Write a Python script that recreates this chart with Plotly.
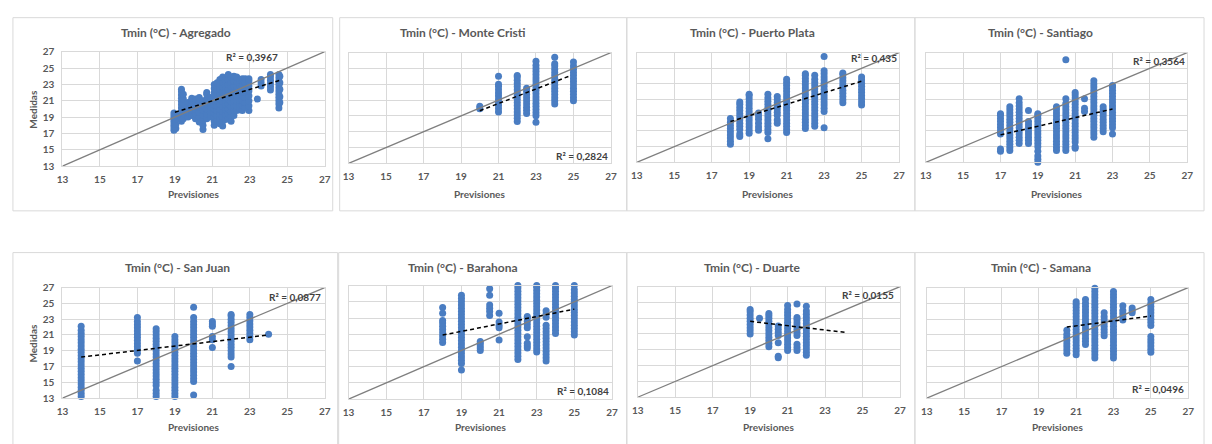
import plotly.graph_objects as go

# ---------------- data ----------------
tick_vals = [13, 15, 17, 19, 21, 23, 25, 27]
axis_range = [13, 27]
identity_line = [13, 27]

panel_titles = ["Tmin (°C) - Agregado", "Tmin (°C) - Monte Cristi", "Tmin (°C) - Puerto Plata",
                "Tmin (°C) - Santiago", "Tmin (°C) - San Juan", "Tmin (°C) - Barahona",
                "Tmin (°C) - Duarte", "Tmin (°C) - Samana"]
r2_texts = ["R² = 0,3967", "R² = 0,2824", "R² = 0,435", "R² = 0,3564",
            "R² = 0,0877", "R² = 0,1084", "R² = 0,0155", "R² = 0,0496"]
r2_x = [23.1, 25.47, 25.65, 25.5, 25.39, 25.45, 25.3, 25.4]
r2_y = [26.3, 13.86, 26.26, 25.9, 25.8, 13.96, 25.9, 14.2]

# Agregado
agregado_prev = [18.95, 19.05, 19.35, 19.45, 19.7, 19.9, 20.1, 20.3, 20.5, 20.7, 20.9, 21.1, 21.25,
                 21.4, 21.55, 21.7, 21.85, 22.0, 22.15, 22.3, 22.45, 22.6, 22.75, 22.95, 23.4,
                 23.6, 24.1, 24.55, 24.6]
agregado_med = [
    [17.4, 17.7, 18.0, 18.3, 18.6, 18.9, 19.2, 19.5],
    [17.6, 18.1, 18.7, 19.3],
    [18.5, 18.9, 19.3, 19.7, 20.1, 20.5, 20.9, 21.3, 21.7, 22.1, 22.4],
    [18.8, 19.4, 20.0, 20.6, 21.2, 21.8],
    [19.0, 19.6, 20.2, 20.8],
    [19.2, 19.8, 20.4, 21.0, 21.3],
    [18.8, 19.4, 20.0, 20.6, 21.2],
    [18.4, 19.0, 19.6, 20.2, 20.8, 21.4],
    [17.5, 18.0, 18.6, 19.2, 19.8, 20.4, 21.0],
    [18.8, 19.4, 20.0, 20.6, 21.2, 21.8, 22.0],
    [19.0, 19.6, 20.2, 20.8, 21.4],
    [18.0, 18.5, 19.0, 19.5, 20.0, 20.5, 21.0, 21.5, 22.0, 22.5, 23.0],
    [18.6, 19.2, 19.8, 20.4, 21.0, 21.6, 22.2, 22.8, 23.2],
    [18.2, 18.8, 19.4, 20.0, 20.6, 21.2, 21.8, 22.4, 23.0, 23.6],
    [17.9, 18.5, 19.1, 19.7, 20.3, 20.9, 21.5, 22.1, 22.7, 23.3, 23.9],
    [18.7, 19.3, 19.9, 20.5, 21.1, 21.7, 22.3, 22.9, 23.5],
    [18.8, 19.4, 20.0, 20.6, 21.2, 21.8, 22.4, 23.0, 23.6, 24.2],
    [18.5, 19.1, 19.7, 20.3, 20.9, 21.5, 22.1, 22.7, 23.3, 23.9],
    [19.2, 19.8, 20.4, 21.0, 21.6, 22.2, 22.8, 23.4, 24.0],
    [19.8, 20.4, 21.0, 21.6, 22.2, 22.8, 23.4, 23.9],
    [19.9, 20.5, 21.1, 21.7, 22.3, 22.9, 23.5],
    [19.8, 20.4, 21.0, 21.6, 22.2, 22.8, 23.4, 23.7],
    [20.2, 20.8, 21.4, 22.0, 22.6, 23.2, 23.7],
    [19.8, 20.4, 21.0, 21.6, 22.2, 22.8, 23.4, 23.7],
    [21.2],
    [22.8, 23.2, 23.6],
    [22.3, 22.7, 23.1, 23.5, 23.9, 24.2],
    [20.1, 20.6, 21.0, 21.4, 21.8, 22.2, 22.6, 23.0, 23.4, 23.8, 24.2],
    [20.8, 21.5, 22.4, 23.2, 24.0],
]
agregado_trend_x = [19.0, 24.6]
agregado_trend_y = [19.6, 23.5]

# Monte Cristi
monte_cristi_prev = [20, 21, 22, 22.5, 23, 24, 25]
monte_cristi_med = [
    [19.9, 20.2],
    [19.5, 19.9, 20.3, 20.7, 21.1, 21.5, 21.9, 22.3, 22.7, 23.0, 24.0],
    [18.3, 18.7, 19.1, 19.5, 19.9, 20.3, 20.7, 21.1, 21.5, 21.9, 22.3, 22.7, 23.1, 23.5, 23.9, 24.1],
    [19.3, 19.7, 20.1, 20.5, 20.9, 21.3, 21.7, 22.1, 22.5],
    [18.2, 19.0, 19.4, 19.8, 20.2, 20.6, 21.0, 21.4, 21.8, 22.2, 22.6, 23.0, 23.4, 23.8, 24.2,
     24.6, 25.0, 25.4, 25.9],
    [20.5, 20.9, 21.3, 21.7, 22.1, 22.5, 22.9, 23.3, 23.7, 24.1, 24.5, 24.9, 25.3, 25.6, 26.4],
    [20.9, 21.3, 21.7, 22.1, 22.5, 22.9, 23.3, 23.7, 24.1, 24.5, 24.9, 25.3, 25.8],
]
monte_cristi_trend_x = [20.0, 24.8]
monte_cristi_trend_y = [19.65, 24.05]

# Puerto Plata
puerto_plata_prev = [18, 18.5, 19, 19.5, 20, 20.5, 21, 22, 22.5, 23, 24, 25]
puerto_plata_med = [
    [15.3, 15.7, 16.1, 16.5, 16.9, 17.3, 17.7, 18.1, 18.6],
    [16.3, 16.6, 17.2, 17.6, 18.0, 18.4, 18.8, 19.2, 19.6, 20.0, 20.4, 20.7],
    [16.7, 17.1, 17.5, 17.9, 18.3, 18.7, 19.1, 19.5, 19.9, 20.3, 20.7, 21.1, 21.5, 21.7],
    [17.1, 17.5, 18.0, 18.5, 18.9, 19.3],
    [16.0, 16.8, 17.2, 17.6, 18.0, 18.4, 18.8, 19.2, 19.6, 20.0, 20.4, 20.8, 21.2, 21.7],
    [18.0, 18.4, 19.0, 19.4, 19.8, 20.2, 20.6, 21.0, 21.4],
    [16.8, 17.2, 17.6, 18.0, 18.4, 18.8, 19.2, 19.6, 20.0, 20.4, 20.8, 21.2, 21.6, 22.0, 22.4,
     22.8, 23.2, 23.6],
    [17.3, 17.7, 18.1, 18.5, 18.9, 19.3, 19.7, 20.1, 20.5, 20.9, 21.3, 21.7, 22.1, 22.5, 22.9,
     23.3, 23.7, 24.1, 24.3],
    [17.6, 18.0, 18.4, 18.8, 19.2, 19.6, 20.0, 20.4, 20.8, 21.2, 21.6, 22.0, 22.4, 22.8, 23.2,
     23.6, 24.1],
    [17.4, 19.5, 19.9, 20.3, 20.7, 21.1, 21.5, 21.9, 22.3, 22.7, 23.1, 23.5, 23.9, 24.3, 24.7, 26.5],
    [20.6, 21.0, 21.4, 21.8, 22.2, 22.6, 23.0, 23.4, 23.8, 24.2, 24.4],
    [20.3, 20.7, 21.1, 21.5, 21.9, 22.3, 22.7, 23.1, 23.5, 23.9],
]
puerto_plata_trend_x = [18.0, 25.0]
puerto_plata_trend_y = [18.2, 23.35]

# Santiago
santiago_prev = [17, 17.5, 18, 18.5, 19, 20, 20.5, 21, 21.5, 22, 22.5, 23]
santiago_med = [
    [14.4, 14.7, 16.6, 17.0, 17.4, 17.8, 18.2, 18.6, 19.0, 19.2],
    [14.5, 14.9, 15.3, 15.7, 16.1, 16.5, 16.9, 17.3, 17.7, 18.1, 18.5, 18.9, 19.3, 19.7, 20.1],
    [15.4, 15.8, 16.2, 16.6, 17.0, 17.4, 17.8, 18.2, 18.6, 19.0, 19.4, 19.8, 20.2, 20.6, 21.1],
    [15.4, 15.8, 16.2, 16.6, 17.0, 17.4, 17.8, 18.2, 19.6],
    [13.0, 13.4, 13.8, 14.4, 15.0, 15.4, 15.8, 16.2, 16.6, 17.0, 17.4, 17.8, 18.2, 18.6, 19.0, 19.2],
    [14.5, 14.9, 15.3, 15.7, 16.1, 16.5, 16.9, 17.3, 17.7, 18.1, 18.5, 18.9, 19.3, 19.7, 20.1],
    [14.5, 14.9, 15.3, 15.7, 16.1, 16.5, 16.9, 17.3, 17.7, 18.1, 18.5, 18.9, 19.3, 19.7, 20.1,
     20.5, 21.1, 26.1],
    [14.8, 15.0, 15.6, 16.0, 16.4, 16.8, 17.2, 17.6, 18.0, 18.4, 18.8, 19.2, 19.6, 20.0, 20.4,
     20.8, 21.2, 21.6, 21.9],
    [19.5, 19.9, 21.1],
    [16.2, 16.6, 17.0, 17.4, 17.8, 18.2, 18.6, 19.0, 19.4, 19.8, 20.2, 20.6, 21.0, 21.4, 21.8,
     22.2, 22.6, 23.0, 23.4],
    [16.9, 17.3, 17.7, 18.1, 18.5, 18.9, 19.3, 19.7, 20.1],
    [16.6, 17.4, 17.8, 18.2, 18.6, 19.0, 19.4, 19.8, 20.2, 20.6, 21.0, 21.4, 21.8, 22.2, 22.6, 22.8],
]
santiago_trend_x = [17.0, 23.0]
santiago_trend_y = [16.5, 19.8]

# San Juan
san_juan_prev = [14, 17, 18, 19, 20, 21, 22, 23, 24]
san_juan_med = [
    [13.2, 13.6, 14.0, 14.4, 14.8, 15.2, 15.6, 16.0, 16.4, 16.8, 17.2, 17.6, 18.0, 18.4, 18.8,
     19.2, 19.6, 20.0, 20.4, 20.8, 21.2, 21.6, 22.1],
    [17.7, 18.7, 19.1, 19.5, 19.9, 20.3, 20.7, 21.1, 21.5, 21.9, 22.3, 22.7, 23.2],
    [13.2, 13.6, 14.0, 14.6, 15.0, 15.4, 15.8, 16.2, 16.6, 17.0, 17.4, 17.8, 18.2, 18.6, 19.0,
     19.4, 19.8, 20.2, 20.6, 21.0, 21.4, 21.8],
    [13.2, 13.6, 14.0, 14.4, 14.8, 15.2, 15.6, 16.0, 16.4, 16.8, 17.2, 17.6, 18.0, 18.4, 18.8,
     19.2, 19.6, 20.0, 20.4, 20.8],
    [13.4, 15.1, 15.5, 15.9, 16.3, 16.7, 17.1, 17.5, 17.9, 18.3, 18.7, 19.1, 19.5, 19.9, 20.3,
     20.7, 21.1, 21.5, 21.9, 22.3, 22.7, 23.2, 24.5],
    [19.4, 20.4, 20.8, 22.1, 22.4, 22.7],
    [17.0, 18.2, 18.6, 19.0, 19.4, 19.8, 20.2, 20.6, 21.0, 21.4, 21.8, 22.2, 22.6, 23.0, 23.4, 23.6],
    [20.4, 20.8, 21.2, 21.6, 22.0, 22.4, 22.8, 23.2, 23.6],
    [21.1],
]
san_juan_trend_x = [14.0, 24.0]
san_juan_trend_y = [18.2, 21.0]

# Barahona
barahona_prev = [18, 19, 20, 20.5, 21, 22, 22.5, 23, 23.5, 24, 25]
barahona_med = [
    [20.0, 20.4, 20.8, 21.2, 21.6, 22.0, 22.4, 22.7, 23.6, 24.3],
    [16.6, 17.4, 17.8, 18.2, 18.6, 19.0, 19.4, 19.8, 20.2, 20.6, 21.0, 21.4, 21.8, 22.2, 22.6,
     23.0, 23.4, 23.8, 24.2, 24.6, 25.0, 25.4, 25.8],
    [19.0, 19.3, 19.6, 19.9, 20.1],
    [23.3, 23.8, 24.2, 24.6, 25.8, 26.6],
    [20.3, 21.8, 22.1, 22.5, 23.6],
    [17.9, 18.3, 18.7, 19.1, 19.5, 19.9, 20.3, 20.7, 21.1, 21.5, 21.9, 22.3, 22.7, 23.1, 23.5,
     23.9, 24.3, 24.7, 25.1, 25.5, 25.9, 26.3, 26.7, 27.0],
    [19.3, 19.6, 19.9, 20.7, 21.8, 22.2, 22.6, 23.0, 23.2],
    [18.8, 19.2, 19.6, 20.0, 20.4, 20.8, 21.2, 21.6, 22.0, 22.4, 22.8, 23.2, 23.6, 24.0, 24.4,
     24.8, 25.2, 25.6, 26.0, 26.4, 26.8, 27.0],
    [17.7, 18.1, 18.5, 18.9, 19.3, 19.7, 20.1, 20.5, 20.9, 21.3, 21.7, 22.1, 23.1, 23.5, 23.9],
    [21.1, 21.5, 21.9, 22.3, 22.7, 23.1, 23.5, 23.9, 24.3, 24.7, 25.1, 25.5, 25.9, 26.3, 26.7, 27.0],
    [20.9, 21.3, 21.7, 22.1, 22.5, 22.9, 23.3, 23.7, 24.1, 24.5, 24.9, 25.3, 25.7, 26.1, 26.5, 27.0],
]
barahona_trend_x = [18.0, 25.0]
barahona_trend_y = [20.9, 24.1]

# Duarte
duarte_prev = [19, 19.5, 20, 20.5, 21, 21.5, 22]
duarte_med = [
    [21.0, 21.4, 21.8, 22.2, 22.6, 23.0, 23.4, 23.8, 24.1],
    [23.0],
    [19.4, 19.8, 20.2, 20.6, 21.0, 21.4, 21.8, 22.2, 22.6, 23.0, 23.3, 23.6],
    [18.0, 18.2, 19.9, 20.8, 21.2, 21.6, 22.0],
    [18.9, 19.3, 19.7, 20.1, 20.5, 20.9, 21.3, 21.7, 22.1, 22.5, 22.9, 23.3, 23.7, 24.1, 24.6],
    [18.9, 19.3, 19.7, 20.8, 21.2, 21.6, 22.0, 22.4, 22.8, 23.1, 24.8],
    [18.3, 18.7, 19.1, 19.5, 19.9, 20.3, 20.7, 21.1, 21.5, 21.9, 22.3, 22.7, 23.1, 23.5, 23.9, 24.5],
]
duarte_trend_x = [19.0, 24.1]
duarte_trend_y = [22.6, 21.2]

# Samana
samana_prev = [20.5, 21, 21.5, 22, 22.5, 23, 23.5, 24, 25]
samana_med = [
    [18.7, 19.1, 19.5, 19.9, 20.3, 20.7, 21.1, 21.6],
    [18.5, 18.9, 19.3, 19.7, 20.1, 20.5, 20.9, 21.3, 21.7, 22.1, 22.5, 22.9, 23.3, 23.7, 24.1,
     24.5, 24.9, 25.2],
    [19.8, 20.2, 20.6, 21.0, 21.4, 21.8, 22.2, 22.6, 23.0, 23.4, 23.8, 24.2, 24.6, 25.0, 25.5],
    [18.1, 18.5, 18.9, 19.3, 19.7, 20.1, 20.5, 20.9, 21.3, 21.7, 22.1, 22.5, 22.9, 23.3, 23.7,
     24.1, 24.5, 24.9, 25.3, 25.7, 26.1, 26.5, 26.9],
    [20.9, 21.3, 21.7, 22.1, 22.5, 22.9, 23.3, 23.8],
    [18.1, 18.5, 18.9, 19.3, 19.7, 20.1, 20.5, 20.9, 21.3, 21.7, 22.1, 22.5, 22.9, 23.3, 23.7,
     24.1, 24.5, 24.9, 25.3, 25.7, 26.1, 26.5],
    [22.9, 23.3, 23.7, 24.1, 24.7],
    [23.8, 24.1, 24.4],
    [18.8, 19.2, 19.6, 20.0, 20.4, 20.8, 22.2, 22.6, 23.0, 23.4, 23.8, 24.2, 24.6, 25.0, 25.5],
]
samana_trend_x = [20.5, 25.0]
samana_trend_y = [22.0, 23.4]

panels = [
    (agregado_prev, agregado_med, agregado_trend_x, agregado_trend_y),
    (monte_cristi_prev, monte_cristi_med, monte_cristi_trend_x, monte_cristi_trend_y),
    (puerto_plata_prev, puerto_plata_med, puerto_plata_trend_x, puerto_plata_trend_y),
    (santiago_prev, santiago_med, santiago_trend_x, santiago_trend_y),
    (san_juan_prev, san_juan_med, san_juan_trend_x, san_juan_trend_y),
    (barahona_prev, barahona_med, barahona_trend_x, barahona_trend_y),
    (duarte_prev, duarte_med, duarte_trend_x, duarte_trend_y),
    (samana_prev, samana_med, samana_trend_x, samana_trend_y),
]

# ---------------- layout geometry (pixels) ----------------
W, H = 1212, 444
plot_boxes = [  # left, right, top, bottom
    (57, 322, 46, 164), (346, 611, 47, 161), (637, 902, 47, 160), (929, 1193, 47, 160),
    (57, 322, 289, 403), (346, 612, 287, 404), (638, 903, 288, 402), (930, 1194, 289, 403)]
chart_boxes = [
    (7, 330, 11, 210), (337, 627, 11, 210), (627, 918, 11, 210), (918, 1210, 11, 210),
    (7, 335, 253, 460), (336, 627, 253, 460), (627, 918, 253, 460), (918, 1210, 253, 460)]
title_pos = [(172, 26), (462, 26), (754, 26), (1045, 26),
             (173, 268), (462, 268), (753, 268), (1045, 268)]

FONT = "Lato"
TXT = "#595959"
DOT = "#4A7DC2"


def px(x):
    return x / W


def py(y):
    return 1 - y / H


fig = go.Figure()
layout = dict(width=W, height=H, margin=dict(l=0, r=0, t=0, b=0),
              paper_bgcolor="white", plot_bgcolor="white", showlegend=False,
              font=dict(family=FONT, color=TXT))
annotations = []
shapes = []

for i, (prev, med, tx, ty) in enumerate(panels):
    n = i + 1
    xa = "x" if n == 1 else f"x{n}"
    ya = "y" if n == 1 else f"y{n}"
    xs, ys = [], []
    for xv, col in zip(prev, med):
        for yv in col:
            xs.append(xv)
            ys.append(yv)
    fig.add_trace(go.Scatter(x=xs, y=ys, mode="markers", xaxis=xa, yaxis=ya,
                             marker=dict(size=7, color=DOT, line=dict(width=0)),
                             cliponaxis=False, hoverinfo="x+y"))
    fig.add_trace(go.Scatter(x=identity_line, y=identity_line, mode="lines", xaxis=xa, yaxis=ya,
                             line=dict(color="#7f7f7f", width=1.3), hoverinfo="skip"))
    fig.add_trace(go.Scatter(x=tx, y=ty, mode="lines", xaxis=xa, yaxis=ya,
                             line=dict(color="#000000", width=1.5, dash="4px,3px"),
                             hoverinfo="skip"))

    l, r, t, b = plot_boxes[i]
    first_col = (i % 4 == 0)
    xkey = "xaxis" if n == 1 else f"xaxis{n}"
    ykey = "yaxis" if n == 1 else f"yaxis{n}"
    layout[xkey] = dict(domain=[px(l), px(r)], range=axis_range, anchor=ya,
                        tickvals=tick_vals, showgrid=True, gridcolor="#d9d9d9", gridwidth=1,
                        zeroline=False, showline=True, linecolor="#d9d9d9", mirror=True,
                        ticks="", ticklabelstandoff=4,
                        tickfont=dict(family=FONT, size=10, color=TXT, weight="bold"),
                        fixedrange=True)
    layout[ykey] = dict(domain=[py(b), py(t)], range=axis_range, anchor=xa,
                        tickvals=tick_vals, showgrid=True, gridcolor="#d9d9d9", gridwidth=1,
                        zeroline=False, showline=True, linecolor="#d9d9d9", mirror=True,
                        ticks="", ticklabelstandoff=5, showticklabels=first_col,
                        tickfont=dict(family=FONT, size=10, color=TXT, weight="bold"),
                        fixedrange=True)

    cl, cr, ct, cb = chart_boxes[i]
    shapes.append(dict(type="rect", xref="paper", yref="paper",
                       x0=px(cl), x1=px(cr), y0=py(cb), y1=py(ct),
                       line=dict(color="#d9d9d9", width=1), layer="below"))

    tx0, ty0 = title_pos[i]
    annotations.append(dict(text=panel_titles[i], xref="paper", yref="paper",
                            x=px(tx0), y=py(ty0), xanchor="center", yanchor="middle",
                            showarrow=False,
                            font=dict(family=FONT, size=12, color=TXT, weight="bold")))
    xt_y = 193 if i < 4 else 433
    annotations.append(dict(text="Previsiones", xref="paper", yref="paper",
                            x=px((l + r) / 2), y=py(xt_y), xanchor="center", yanchor="middle",
                            showarrow=False,
                            font=dict(family=FONT, size=10, color=TXT, weight="bold")))
    if first_col:
        annotations.append(dict(text="Medidas", xref="paper", yref="paper",
                                x=px(27), y=py((t + b) / 2), xanchor="center", yanchor="middle",
                                textangle=-90, showarrow=False,
                                font=dict(family=FONT, size=10, color=TXT, weight="bold")))
    annotations.append(dict(text=r2_texts[i], xref=xa, yref=ya, x=r2_x[i], y=r2_y[i],
                            xanchor="center", yanchor="middle", showarrow=False,
                            font=dict(family=FONT, size=10, color="#404040", weight="bold")))

layout["annotations"] = annotations
layout["shapes"] = shapes
fig.update_layout(**layout)

fig.write_html("out.html", config={"displayModeBar": False},
               post_script="document.body.style.margin='0';document.body.style.overflow='hidden';")
